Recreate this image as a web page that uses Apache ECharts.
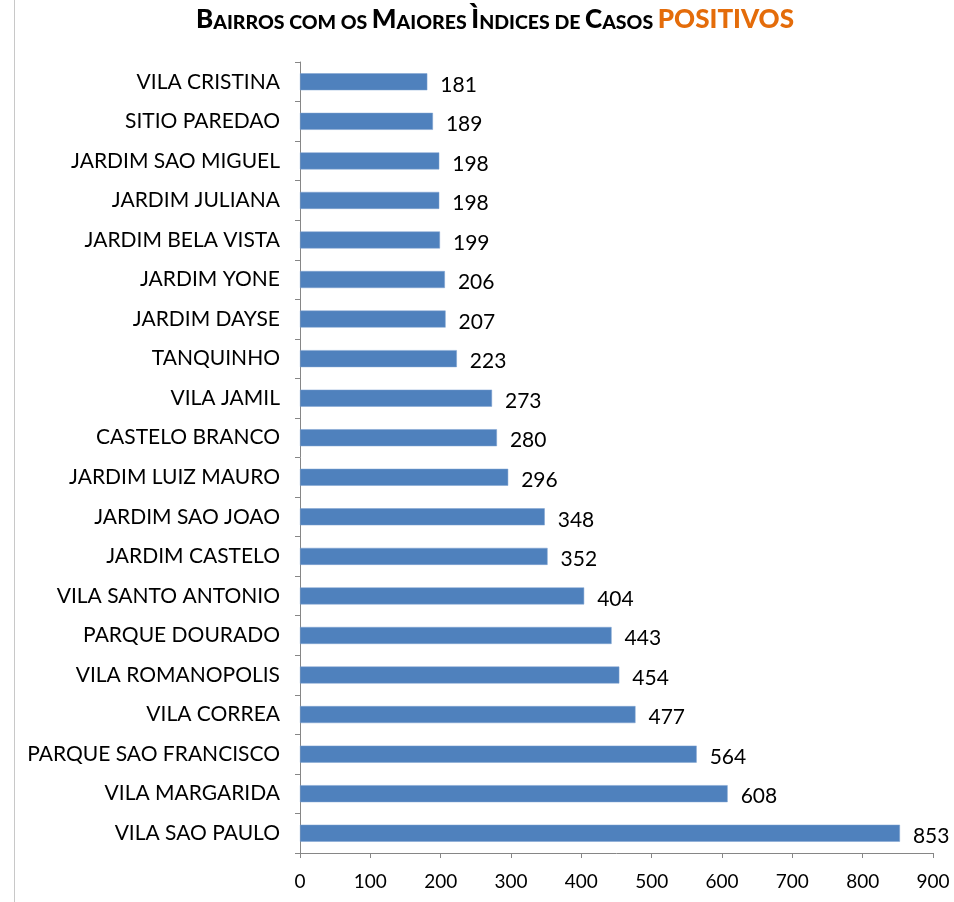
<!DOCTYPE html>
<html>
<head>
<meta charset="utf-8">
<script src="https://cdn.jsdelivr.net/npm/echarts@6/dist/echarts.min.js"></script>
<style>
  html, body { margin: 0; padding: 0; background: #fff; }
  #chart { width: 954px; height: 902px; }
</style>
</head>
<body>
<div id="chart"></div>
<script>
// bairros, de baixo para cima (eixo de categorias começa embaixo)
const bairros = [
  'VILA SAO PAULO', 'VILA MARGARIDA', 'PARQUE SAO FRANCISCO', 'VILA CORREA',
  'VILA ROMANOPOLIS', 'PARQUE DOURADO', 'VILA SANTO ANTONIO', 'JARDIM CASTELO',
  'JARDIM SAO JOAO', 'JARDIM LUIZ MAURO', 'CASTELO BRANCO', 'VILA JAMIL',
  'TANQUINHO', 'JARDIM DAYSE', 'JARDIM YONE', 'JARDIM BELA VISTA',
  'JARDIM JULIANA', 'JARDIM SAO MIGUEL', 'SITIO PAREDAO', 'VILA CRISTINA'
];
const casos = [853, 608, 564, 477, 454, 443, 404, 352, 348, 296, 280, 273, 223, 207, 206, 199, 198, 198, 189, 181];

const eixoMin = 0;
const eixoMax = 900;
const eixoPasso = 100;

const fonte = 'Lato, "Open Sans", sans-serif';
const chart = echarts.init(document.getElementById('chart'));

// titulo em "small caps" montado com rich text
const big = { fontSize: 26, fontWeight: 900, color: '#000', fontFamily: fonte, verticalAlign: 'bottom' };
const small = { fontSize: 19.5, fontWeight: 900, color: '#000', fontFamily: fonte, verticalAlign: 'bottom' };
const laranja = { fontSize: 26, fontWeight: 900, color: '#E46C0A', fontFamily: fonte, verticalAlign: 'bottom' };

chart.setOption({
  animation: false,
  backgroundColor: '#fff',
  textStyle: { fontFamily: fonte },
  title: {
    left: 191,
    top: 2,
    text: '{b|B}{s|AIRROS COM OS }{b|M}{s|AIORES }{b|Ì}{s|NDICES DE }{b|C}{s|ASOS }{o|POSITIVOS}',
    textStyle: { rich: { b: big, s: small, o: laranja } }
  },
  graphic: [{
    type: 'line',
    shape: { x1: 14.5, y1: 0, x2: 14.5, y2: 902 },
    style: { stroke: '#c8c8c8', lineWidth: 1 }
  }],
  grid: { left: 300, right: 21, top: 62, bottom: 49, containLabel: false },
  xAxis: {
    type: 'value',
    min: eixoMin,
    max: eixoMax,
    interval: eixoPasso,
    splitLine: { show: false },
    axisLine: { show: true, lineStyle: { color: '#868686' } },
    axisTick: { show: true, length: 5, lineStyle: { color: '#868686' } },
    axisLabel: { color: '#000', fontSize: 19, margin: 19, fontFamily: fonte }
  },
  yAxis: {
    type: 'category',
    data: bairros,
    axisLine: { show: true, lineStyle: { color: '#868686' } },
    axisTick: { show: true, length: 5, alignWithLabel: false, lineStyle: { color: '#868686' } },
    axisLabel: { color: '#000', fontSize: 21, margin: 20, fontFamily: fonte }
  },
  series: [{
    type: 'bar',
    data: casos,
    barWidth: 17,
    itemStyle: { color: '#4F81BD', borderColor: '#7FA3D0', borderWidth: 0.5 },
    label: {
      show: true,
      position: 'right',
      distance: 13,
      color: '#000',
      fontSize: 21,
      fontFamily: fonte,
      offset: [0, 3]
    }
  }]
});
</script>
</body>
</html>
